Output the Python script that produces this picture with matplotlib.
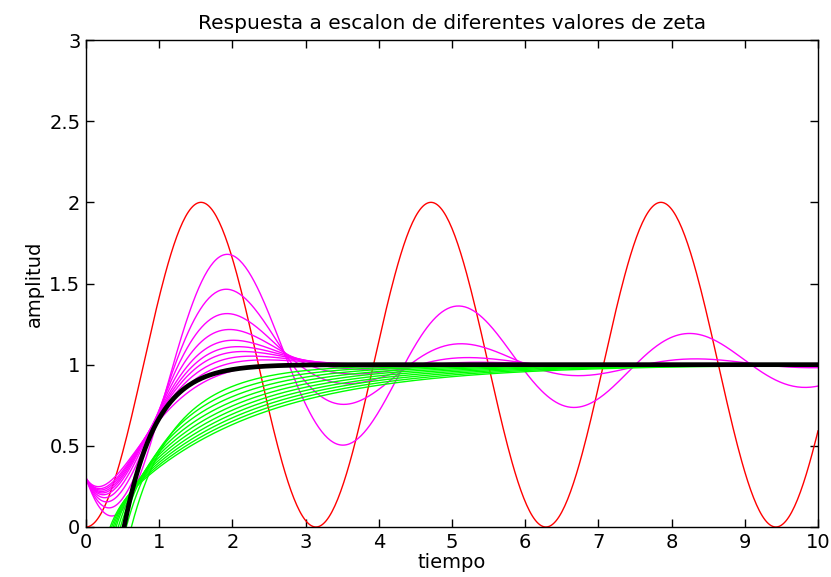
import numpy as np
import matplotlib
matplotlib.use("Agg")
import matplotlib.pyplot as plt

plt.rcParams['font.family'] = ['DejaVu Sans']

# time base and natural frequency of the second-order system
t_end = 10.0
dt = 0.02
wn = 2.0

# damping ratios of each family
zeta_undamped = 0.0
zeta_under = [0.1, 0.2, 0.3, 0.39, 0.47, 0.53, 0.585, 0.65, 0.72, 0.85]
zeta_critical = 1.0
zeta_over = [1.1, 1.2, 1.3, 1.4, 1.5, 1.6, 1.7, 1.8, 1.9, 2.0]

# starting level of the underdamped responses
y0_under = 0.3
# zero-crossing instants of the overdamped responses
t_cross_over = [0.62, 0.55, 0.50, 0.47, 0.44, 0.41, 0.39, 0.37, 0.35, 0.33]
# coefficients of the critically damped response 1 - e^{-wn t}(a + b t)
crit_a = 3.25
crit_b = -0.81

t = np.arange(0.0, t_end + dt / 2, dt)


def resp_undamped(tt):
    return 1.0 - np.cos(wn * tt)


def resp_under(z, tt):
    wd = wn * np.sqrt(1 - z ** 2)
    th = np.arcsin((1 - y0_under) * np.sqrt(1 - z ** 2))
    return 1.0 - np.exp(-z * wn * tt) / np.sqrt(1 - z ** 2) * np.sin(wd * tt + th)


def resp_over(z, tc, tt):
    b = np.sqrt(z ** 2 - 1)
    s1 = wn * (z - b)
    s2 = wn * (z + b)
    p = s2 / (s2 - s1)
    q = (1.0 - p * np.exp(-s1 * tc)) / np.exp(-s2 * tc)
    return 1.0 - p * np.exp(-s1 * tt) - q * np.exp(-s2 * tt)


def resp_crit(tt):
    return 1.0 - np.exp(-wn * tt) * (crit_a + crit_b * tt)


fig = plt.figure(figsize=(8.31, 5.77), dpi=100)
ax = fig.add_axes([86 / 831, 50 / 577, 732 / 831, 487 / 577])

ax.plot(t, resp_undamped(t), color=(1, 0, 0), lw=1.0)
for z in zeta_under:
    ax.plot(t, resp_under(z, t), color=(1, 0, 1), lw=1.0)
for z, tc in zip(zeta_over, t_cross_over):
    ax.plot(t, resp_over(z, tc, t), color=(0, 1, 0), lw=1.0)
ax.plot(t, resp_crit(t), color='black', lw=3.4)

ax.set_xlim(0, 10)
ax.set_ylim(0, 3)
ax.set_xticks(np.arange(0, 11, 1))
ax.set_yticks([0, 0.5, 1, 1.5, 2, 2.5, 3])
ax.set_yticklabels(['0', '0.5', '1', '1.5', '2', '2.5', '3'])
ax.tick_params(direction='in', length=6, width=1, top=True, right=True,
               labelsize=14, pad=4)
for s in ax.spines.values():
    s.set_linewidth(1.0)

ax.set_title('Respuesta a escalon de diferentes valores de zeta', fontsize=14.5, pad=8)
ax.set_xlabel('tiempo', fontsize=14, labelpad=1)
ax.set_ylabel('amplitud', fontsize=14, labelpad=4)

fig.savefig('out.png', dpi=100)
